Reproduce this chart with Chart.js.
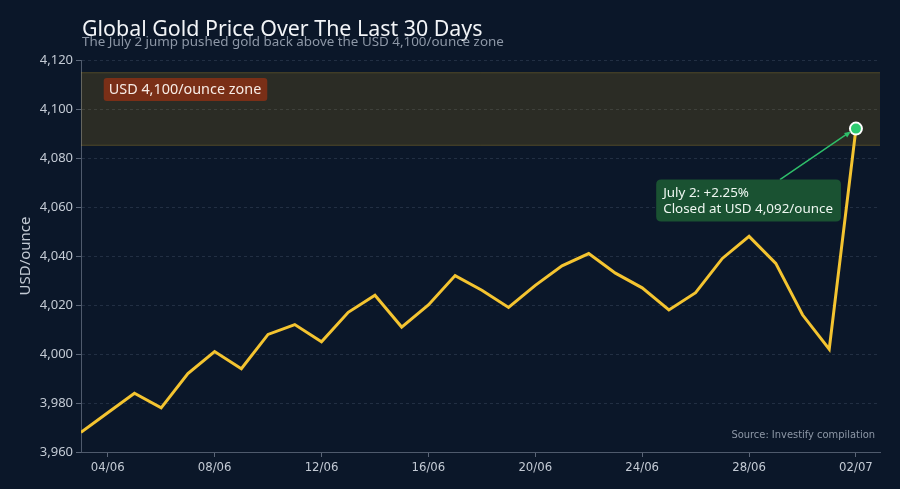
<!DOCTYPE html>
<html>
<head>
<meta charset="utf-8">
<script src="https://cdn.jsdelivr.net/npm/chart.js@4.4.1/dist/chart.umd.min.js"></script>
<style>
  html, body { margin: 0; padding: 0; background: #0b1729; }
  #wrap { width: 900px; height: 489px; }
</style>
</head>
<body>
<div id="wrap"><canvas id="goldChart" width="900" height="489"></canvas></div>
<script>
// data
const dates = ['03/06','04/06','05/06','06/06','07/06','08/06','09/06','10/06','11/06','12/06',
               '13/06','14/06','15/06','16/06','17/06','18/06','19/06','20/06','21/06','22/06',
               '23/06','24/06','25/06','26/06','27/06','28/06','29/06','30/06','01/07','02/07'];
const prices = [3968, 3976, 3984, 3978, 3992, 4001, 3994, 4008, 4012, 4005,
                4017, 4024, 4011, 4020, 4032, 4026, 4019, 4028, 4036, 4041,
                4033, 4027, 4018, 4025, 4039, 4048, 4037, 4016, 4002, 4092];
const xTickIdx = [1, 5, 9, 13, 17, 21, 25, 29];
const yTicks = [3960, 3980, 4000, 4020, 4040, 4060, 4080, 4100, 4120];
const zoneRange = [4085, 4115];
const zoneLabel = 'USD 4,100/ounce zone';
const calloutLines = ['July 2: +2.25%', 'Closed at USD 4,092/ounce'];
const titleText = 'Global Gold Price Over The Last 30 Days';
const subtitleText = 'The July 2 jump pushed gold back above the USD 4,100/ounce zone';
const sourceText = 'Source: Investify compilation';

const lastIdx = prices.length - 1;
const points = prices.map((v, i) => ({x: i, y: v}));
const mainFont = '"Noto Sans"';
const narrowFont = '"DejaVu Sans Condensed", "Noto Sans"';

function roundRect(ctx, x, y, w, h, r) {
  ctx.beginPath();
  ctx.moveTo(x + r, y);
  ctx.lineTo(x + w - r, y);
  ctx.quadraticCurveTo(x + w, y, x + w, y + r);
  ctx.lineTo(x + w, y + h - r);
  ctx.quadraticCurveTo(x + w, y + h, x + w - r, y + h);
  ctx.lineTo(x + r, y + h);
  ctx.quadraticCurveTo(x, y + h, x, y + h - r);
  ctx.lineTo(x, y + r);
  ctx.quadraticCurveTo(x, y, x + r, y);
  ctx.closePath();
}

// zone band behind the line
const zonePlugin = {
  id: 'zone',
  beforeDatasetsDraw(chart) {
    const {ctx, chartArea, scales} = chart;
    const yTop = scales.y.getPixelForValue(zoneRange[1]);
    const yBot = scales.y.getPixelForValue(zoneRange[0]);
    ctx.save();
    ctx.fillStyle = 'rgba(230,165,20,0.15)';
    ctx.fillRect(chartArea.left, yTop, chartArea.right - chartArea.left, yBot - yTop);
    ctx.strokeStyle = 'rgba(200,165,50,0.25)';
    ctx.lineWidth = 1;
    ctx.beginPath();
    ctx.moveTo(chartArea.left, yTop + 0.5); ctx.lineTo(chartArea.right, yTop + 0.5);
    ctx.moveTo(chartArea.left, yBot - 0.5); ctx.lineTo(chartArea.right, yBot - 0.5);
    ctx.stroke();
    ctx.restore();
  }
};

// titles, labels, callout
const textPlugin = {
  id: 'texts',
  afterDraw(chart) {
    const {ctx, chartArea, scales} = chart;
    ctx.save();
    ctx.textBaseline = 'alphabetic';
    ctx.textAlign = 'left';

    ctx.fillStyle = '#f2f4f7';
    ctx.font = '21.4px ' + mainFont;
    ctx.fillText(titleText, 82, 36);
    ctx.fillStyle = '#8d97a6';
    ctx.font = '13.4px ' + mainFont;
    ctx.fillText(subtitleText, 82, 46);

    // zone label
    ctx.font = '14.4px ' + mainFont;
    const zx = scales.x.getPixelForValue(0.85);
    const zy = scales.y.getPixelForValue(4108);
    const zw = ctx.measureText(zoneLabel).width + 11;
    ctx.fillStyle = '#7a2f17';
    roundRect(ctx, zx, zy - 11.5, zw, 23, 3);
    ctx.fill();
    ctx.fillStyle = '#f7ece6';
    ctx.fillText(zoneLabel, zx + 5, zy + 5);

    // callout for last point
    const px = scales.x.getPixelForValue(lastIdx);
    const py = scales.y.getPixelForValue(prices[lastIdx]);
    ctx.font = '13.4px ' + mainFont;
    const bw = ctx.measureText(calloutLines[1]).width + 15;
    const bx = px - 15 - bw, by = py + 51, bh = 42;
    ctx.strokeStyle = '#2fbf6a';
    ctx.lineWidth = 1.5;
    ctx.beginPath();
    ctx.moveTo(px - 76, by);
    ctx.lineTo(px - 7, py + 4);
    ctx.stroke();
    ctx.fillStyle = '#2fbf6a';
    ctx.beginPath();
    const ang = Math.atan2((py + 4) - by, (px - 7) - (px - 76));
    ctx.moveTo(px - 5, py + 3);
    ctx.lineTo(px - 5 - 7 * Math.cos(ang - 0.4), py + 3 - 7 * Math.sin(ang - 0.4));
    ctx.lineTo(px - 5 - 7 * Math.cos(ang + 0.4), py + 3 - 7 * Math.sin(ang + 0.4));
    ctx.closePath();
    ctx.fill();

    ctx.fillStyle = '#1a5232';
    roundRect(ctx, bx, by, bw, bh, 5);
    ctx.fill();
    ctx.fillStyle = '#eef7f1';
    ctx.fillText(calloutLines[0], bx + 7, by + 17);
    ctx.fillText(calloutLines[1], bx + 7, by + 33);

    // source
    ctx.textAlign = 'right';
    ctx.fillStyle = '#8d97a6';
    ctx.font = '11px ' + narrowFont;
    ctx.fillText(sourceText, chartArea.right - 5, chartArea.bottom - 14);
    ctx.restore();
  }
};

const data = {
  datasets: [{
    label: 'Gold price',
    data: points,
    borderColor: '#f4c430',
    borderWidth: 3,
    tension: 0,
    pointRadius: ctx => ctx.dataIndex === lastIdx ? 6 : 0,
    pointHoverRadius: 0,
    pointBackgroundColor: '#2ecc71',
    pointBorderColor: '#ffffff',
    pointBorderWidth: 2
  }]
};

const config = {
  type: 'line',
  data: data,
  plugins: [zonePlugin, textPlugin],
  options: {
    responsive: false,
    devicePixelRatio: 1,
    animation: false,
    layout: { padding: { top: 60, right: 20, left: 0, bottom: 0 } },
    plugins: {
      legend: { display: false },
      tooltip: { enabled: false }
    },
    scales: {
      x: {
        type: 'linear',
        min: 0,
        max: 29.9,
        afterFit: s => { s.height = 37; },
        afterBuildTicks: s => { s.ticks = xTickIdx.map(v => ({value: v})); },
        ticks: {
          color: '#c3cad4',
          font: { family: narrowFont, size: 13 },
          padding: 3,
          maxRotation: 0,
          callback: v => dates[v]
        },
        grid: { drawOnChartArea: false, tickLength: 5, tickColor: '#5b6678' },
        border: { color: '#4f5a6c', width: 1 }
      },
      y: {
        min: 3960,
        max: 4120,
        afterFit: s => { s.width = 81; },
        afterBuildTicks: s => { s.ticks = yTicks.map(v => ({value: v})); },
        ticks: {
          color: '#c3cad4',
          font: { family: mainFont, size: 13 },
          padding: 3
        },
        title: {
          display: true,
          text: 'USD/ounce',
          color: '#c3cad4',
          font: { family: mainFont, size: 15 },
          padding: { top: 17, bottom: 0 }
        },
        grid: { color: 'rgba(120,135,160,0.22)', tickLength: 5, tickColor: '#5b6678', tickBorderDash: [] },
        border: { color: '#4f5a6c', width: 1, dash: [3, 3] }
      }
    }
  }
};

const goldChart = new Chart(document.getElementById('goldChart'), config);
</script>
</body>
</html>
